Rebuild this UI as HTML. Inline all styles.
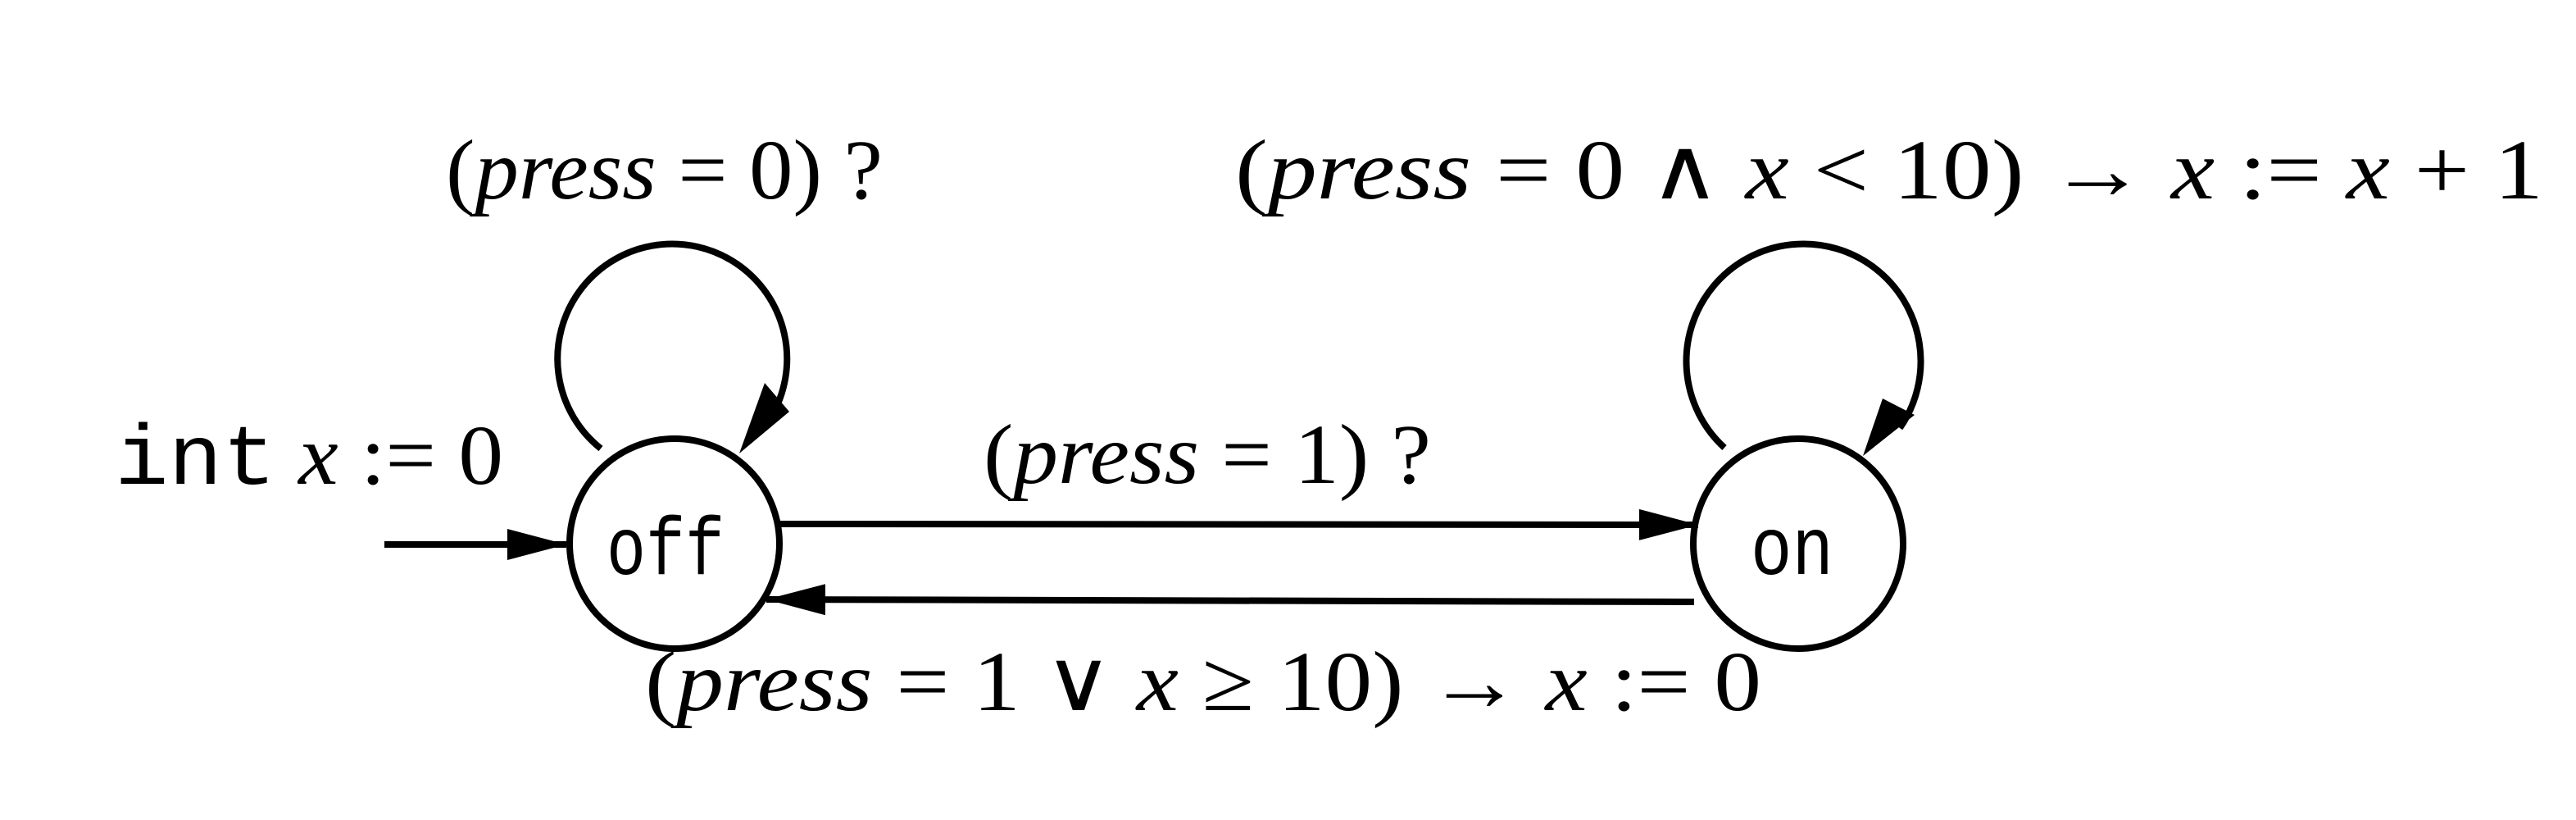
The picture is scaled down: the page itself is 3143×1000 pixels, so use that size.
<!DOCTYPE html>
<html><head><meta charset="utf-8"><style>
html,body{margin:0;padding:0;background:#fff;}
svg{display:block;}
.t{font-family:"Liberation Serif",serif;font-size:104px;fill:#000;}
.m{font-family:"Liberation Mono",monospace;font-size:100px;fill:#000;}
</style></head><body>
<svg width="3143" height="1000" viewBox="0 0 3143 1000">
<defs>
<marker id="ah" markerWidth="72" markerHeight="38" refX="72" refY="19" markerUnits="userSpaceOnUse" orient="auto">
<path d="M0,0 L72,19 L0,38 Z" fill="#000"/></marker>
</defs>
<g fill="none" stroke="#000" stroke-width="8">
<circle cx="823" cy="663" r="128"/>
<circle cx="2194" cy="663" r="128"/>
<path d="M733,547 A140,140 0 1 1 940,510" />
<path d="M2104,546 A143,143 0 1 1 2318,522" />
<line x1="469" y1="664" x2="691" y2="664" marker-end="url(#ah)"/>
<line x1="951" y1="639" x2="2072" y2="640" marker-end="url(#ah)"/>
<line x1="2067" y1="734" x2="935" y2="731" marker-end="url(#ah)"/>
</g>
<path d="M902,553 L933,467 L963,502 Z" fill="#000"/>
<path d="M2273,556 L2297,486 L2336,506 Z" fill="#000"/>
<text class="m" x="740" y="700" textLength="144" lengthAdjust="spacingAndGlyphs">off</text>
<text class="m" x="2136" y="700" textLength="101" lengthAdjust="spacingAndGlyphs">on</text>
<text class="t" x="140" y="590" textLength="474" lengthAdjust="spacingAndGlyphs"><tspan style="font-family:'Liberation Mono',monospace">int</tspan> <tspan font-style="italic">x</tspan> := 0</text>
<text class="t" x="544" y="242" textLength="533" lengthAdjust="spacingAndGlyphs">(<tspan font-style="italic">press</tspan> = 0) ?</text>
<text class="t" x="1507" y="242" textLength="1596" lengthAdjust="spacingAndGlyphs">(<tspan font-style="italic">press</tspan> = 0 ∧ <tspan font-style="italic">x</tspan> &lt; 10) →  <tspan font-style="italic">x</tspan> := <tspan font-style="italic">x</tspan> + 1</text>
<text class="t" x="1200" y="589" textLength="546" lengthAdjust="spacingAndGlyphs">(<tspan font-style="italic">press</tspan> = 1) ?</text>
<text class="t" x="787" y="866" textLength="1362" lengthAdjust="spacingAndGlyphs">(<tspan font-style="italic">press</tspan> = 1 ∨ <tspan font-style="italic">x</tspan> ≥ 10) → <tspan font-style="italic">x</tspan> := 0</text>
</svg>
</body></html>
